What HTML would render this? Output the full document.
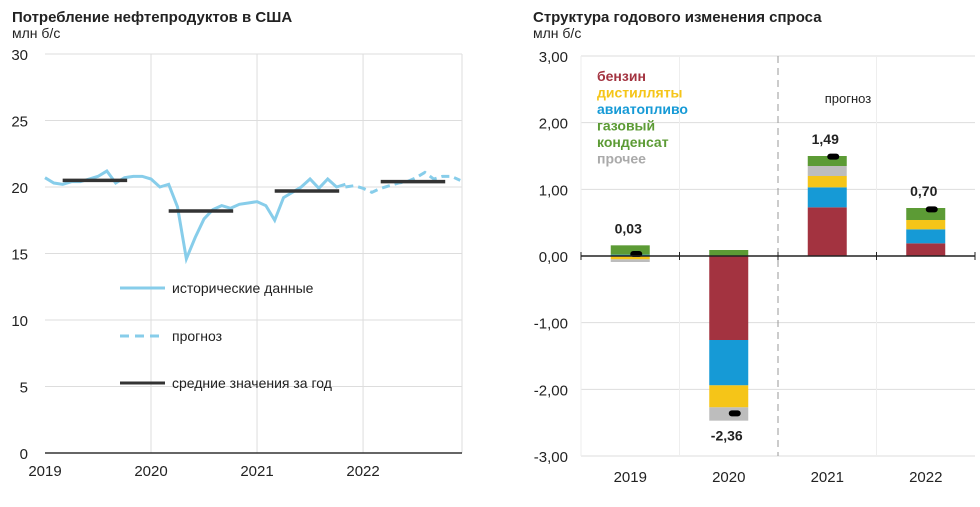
<!DOCTYPE html>
<html><head><meta charset="utf-8">
<style>
body{margin:0;background:#fff;font-family:"Liberation Sans",sans-serif;}
svg text{font-family:"Liberation Sans",sans-serif;}
</style></head>
<body>
<svg width="980" height="502" viewBox="0 0 980 502">
<g id="L"></g><g id="R"></g>
</svg>
<script>
// ---- Left chart data ----
const monthsHist = [20.7,20.3,20.2,20.4,20.4,20.6,20.8,21.2,20.3,20.7,20.8,20.8,
  20.6,20.0,20.2,18.5,14.6,16.2,17.6,18.3,18.6,18.4,18.7,18.8,
  18.9,18.6,17.5,19.2,19.6,20.0,20.6,19.9,20.6,20.0,20.2];
const monthsFcst = [20.0,20.1,19.9,19.6,19.9,20.1,20.3,20.4,20.7,21.1,20.6,20.8,20.8,20.5];
const fcstStart = 34;
const annualAvg = [20.5,18.2,19.7,20.4];
const yearLabels = ['2019','2020','2021','2022'];
const leftTicks = [0,5,10,15,20,25,30];
// ---- Right chart data ----
const categories = ['2019','2020','2021','2022'];
const gasoline = [0,-1.26,0.73,0.19];
const distillates = [-0.05,-0.33,0.17,0.14];
const jetFuel = [0.02,-0.68,0.30,0.21];
const ngl = [0.14,0.09,0.15,0.18];
const other = [-0.04,-0.20,0.15,0];
const totals = [0.03,-2.36,1.49,0.70];
const rightTicks = [3,2,1,0,-1,-2,-3];

const NS='http://www.w3.org/2000/svg';
function mk(p,t,a,txt){const e=document.createElementNS(NS,t);for(const k in a)e.setAttribute(k,a[k]);if(txt!==undefined)e.textContent=txt;p.appendChild(e);return e;}
const L=document.getElementById('L'), R=document.getElementById('R');

// Left
const lx0=45,lx1=462,ly0=453,ly1=54;
const ly=v=>ly0-(v/30)*(ly0-ly1);
const mw=(lx1-lx0)/47.2;
const lxm=i=>lx0+i*mw;
let t=mk(L,'text',{x:12,y:22,'font-size':15,'font-weight':'bold',fill:'#222'},'Потребление нефтепродуктов в США');

t=mk(L,'text',{x:12,y:38,'font-size':14,fill:'#222'},'млн б/с');

leftTicks.forEach(v=>{
  if(v>0){const g=mk(L,'line',{x1:lx0,x2:lx1,y1:ly(v),y2:ly(v),stroke:'#ddd'});}
  const tt=mk(L,'text',{x:28,y:ly(v)+6,'font-size':15,'text-anchor':'end',fill:'#222'},String(v));
  
});
yearLabels.forEach((y,i)=>{
  const x=lxm(i*12);
  if(i>0){const g=mk(L,'line',{x1:x,x2:x,y1:ly1,y2:ly0,stroke:'#ddd'});}
  const tt=mk(L,'text',{x:x,y:476,'font-size':15,'text-anchor':'middle',fill:'#222'},y);
  
});
mk(L,'line',{x1:lx1,x2:lx1,y1:ly1,y2:ly0,stroke:'#ddd'});
let ax=mk(L,'line',{x1:lx0,x2:lx1,y1:ly0,y2:ly0,stroke:'#333','stroke-width':1.5});

let hp=mk(L,'polyline',{points:monthsHist.map((v,i)=>lxm(i)+','+ly(v)).join(' '),fill:'none',stroke:'#87cdea','stroke-width':3});

let fp=mk(L,'polyline',{points:monthsFcst.map((v,i)=>lxm(fcstStart+i)+','+ly(v)).join(' '),fill:'none',stroke:'#87cdea','stroke-width':3,'stroke-dasharray':'8,5'});

annualAvg.forEach((v,i)=>{
  const a=mk(L,'line',{x1:lxm(i*12+2),x2:lxm(i*12+9.3),y1:ly(v),y2:ly(v),stroke:'#333','stroke-width':3.5});
  
});
[['историческиe данные'.replace('e','е'),'solid',288],['прогноз','dash',336],['средние значения за год','avg',383]].forEach(([lab,k,y])=>{
  const g=mk(L,'g',{});
  mk(g,'line',{x1:120,x2:165,y1:y,y2:y,stroke:k==='avg'?'#333':'#87cdea','stroke-width':3,'stroke-dasharray':k==='dash'?'9,6':'none'});
  mk(g,'text',{x:172,y:y+5,'font-size':14,fill:'#222'},lab);
});

// Right
const rx0=581,rx1=975,ry0=56,ry1=456;
const ry=v=>ry0+(3-v)/6*(ry1-ry0);
const cw=(rx1-rx0)/4;
const cx=i=>rx0+cw*(i+0.5);
t=mk(R,'text',{x:533,y:22,'font-size':15,'font-weight':'bold',fill:'#222'},'Структура годового изменения спроса');

t=mk(R,'text',{x:533,y:38,'font-size':14,fill:'#222'},'млн б/с');

rightTicks.forEach(v=>{
  const g=mk(R,'line',{x1:rx0,x2:rx1,y1:ry(v),y2:ry(v),stroke:'#ddd'});
  const tt=mk(R,'text',{x:568,y:ry(v)+6,'font-size':15,'text-anchor':'end',fill:'#222'},v.toFixed(2).replace('.',','));
  
});
mk(R,'line',{x1:rx0,x2:rx0,y1:ry0,y2:ry1,stroke:'#ddd'});
categories.forEach((c,i)=>{
  if(i!==2){const g=mk(R,'line',{x1:rx0+cw*i,x2:rx0+cw*i,y1:ry0,y2:ry1,stroke:'#eee'});}
  const tt=mk(R,'text',{x:cx(i),y:482,'font-size':15,'text-anchor':'middle',fill:'#222'},c);
  
});
let dl=mk(R,'line',{x1:rx0+cw*2,x2:rx0+cw*2,y1:ry0,y2:ry1,stroke:'#999','stroke-dasharray':'7,5'});

t=mk(R,'text',{x:848,y:103,'font-size':13,'text-anchor':'middle',fill:'#222'},'прогноз');

const series=[['gasoline',gasoline,'#a33340'],['jet-fuel',jetFuel,'#169ad6'],['distillates',distillates,'#f5c518'],['other',other,'#bdbdbd'],['ngl',ngl,'#5c9b35']];
const bw=39;
categories.forEach((c,i)=>{
  let pos=0,neg=0;
  series.forEach(([n,arr,col])=>{
    const v=arr[i];if(!v)return;
    let y0,y1;
    if(v>0){y0=pos;pos+=v;y1=pos;}else{y0=neg;neg+=v;y1=neg;}
    const r=mk(R,'rect',{x:cx(i)-bw/2,y:Math.min(ry(y0),ry(y1)),width:bw,height:Math.abs(ry(y0)-ry(y1)),fill:col});
    
  });
  const m=mk(R,'rect',{x:cx(i)-6+6,y:ry(totals[i])-3,width:12,height:6,rx:3,fill:'#000'});
  
  const lyv=totals[i]>=0?ry(Math.max(pos,totals[i]))-12:ry(Math.min(neg,totals[i]))+20;
  const lab=mk(R,'text',{x:cx(i)-2,y:lyv,'font-size':14,'font-weight':'bold','text-anchor':'middle',fill:'#222'},totals[i].toFixed(2).replace('.',','));
  
});
ax=mk(R,'line',{x1:rx0,x2:rx1,y1:ry(0),y2:ry(0),stroke:'#222','stroke-width':1.5});

[0,1,2,3,4].forEach(k=>{mk(R,'line',{x1:rx0+cw*k,x2:rx0+cw*k,y1:ry(0)-4,y2:ry(0)+4,stroke:'#222'});});
[['бензин','#a33340'],['дистилляты','#f5c518'],['авиатопливо','#169ad6'],['газовый','#5c9b35'],['конденсат','#5c9b35'],['прочее','#aaa']].forEach(([lab,col],k)=>{
  const e=mk(R,'text',{x:597,y:81+k*16.5,'font-size':14,'font-weight':'bold',fill:col},lab);
  
});
</script>
</body></html>
